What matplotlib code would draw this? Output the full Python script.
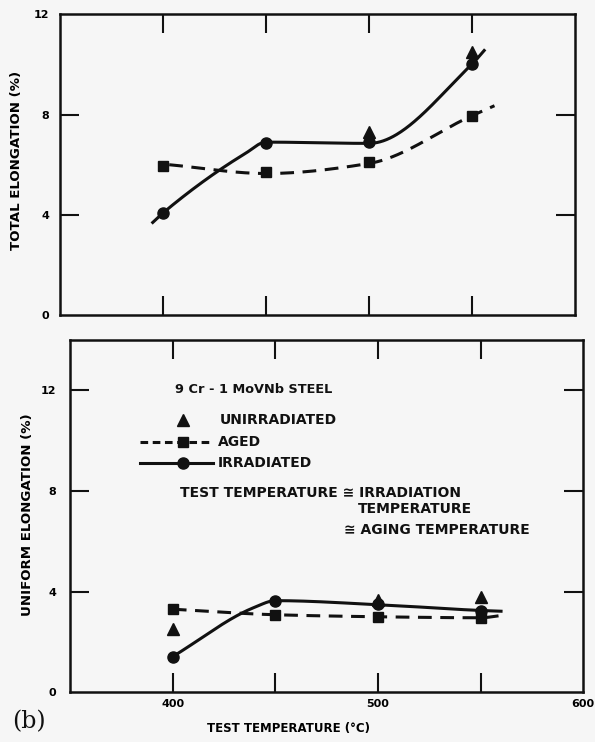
import numpy as np
import matplotlib
matplotlib.use("Agg")
import matplotlib.pyplot as plt

# ---------------- data ----------------
temps = [400, 450, 500, 550]

# top panel: total elongation (%)
tot_unirr_t = [500, 550]
tot_unirr = [7.3, 10.5]
tot_aged = [5.96, 5.7, 6.1, 7.95]
tot_irr = [4.08, 6.85, 6.9, 10.0]
# hand-drawn trend lines (path)
tot_irr_line_x = [395, 400, 440, 450, 500, 550, 556]
tot_irr_line_y = [3.7, 4.08, 6.45, 6.9, 6.85, 10.0, 10.55]
tot_aged_line_x = [403, 450, 500, 550, 561]
tot_aged_line_y = [6.0, 5.65, 6.05, 7.95, 8.35]

# bottom panel: uniform elongation (%)
uni_unirr_t = [400, 500, 550]
uni_unirr = [2.5, 3.65, 3.8]
uni_aged = [3.3, 3.08, 2.98, 2.94]
uni_irr = [1.42, 3.64, 3.5, 3.22]
uni_irr_line_x = [400, 440, 450, 500, 550, 560]
uni_irr_line_y = [1.42, 3.38, 3.64, 3.48, 3.25, 3.22]
uni_aged_line_x = [400, 450, 500, 550, 560]
uni_aged_line_y = [3.3, 3.08, 3.0, 2.96, 3.05]


def pchip(x, y, n=300):
    x = np.asarray(x, float); y = np.asarray(y, float)
    h = np.diff(x); d = np.diff(y) / h
    m = np.zeros_like(y)
    for k in range(1, len(x) - 1):
        if d[k - 1] * d[k] <= 0:
            m[k] = 0
        else:
            w1 = 2 * h[k] + h[k - 1]; w2 = h[k] + 2 * h[k - 1]
            m[k] = (w1 + w2) / (w1 / d[k - 1] + w2 / d[k])
    m[0] = d[0]; m[-1] = d[-1]
    xs = np.linspace(x[0], x[-1], n)
    idx = np.clip(np.searchsorted(x, xs) - 1, 0, len(x) - 2)
    t = (xs - x[idx]) / h[idx]
    h00 = 2 * t**3 - 3 * t**2 + 1; h10 = t**3 - 2 * t**2 + t
    h01 = -2 * t**3 + 3 * t**2; h11 = t**3 - t**2
    ys = h00 * y[idx] + h10 * h[idx] * m[idx] + h01 * y[idx + 1] + h11 * h[idx] * m[idx + 1]
    return xs, ys


bg = "#f6f6f6"
ink = "#111111"
plt.rcParams["font.family"] = ["DejaVu Sans"]
plt.rcParams["font.weight"] = "bold"
plt.rcParams["axes.labelweight"] = "bold"

fig = plt.figure(figsize=(5.95, 7.42), dpi=100, facecolor=bg)
ax1 = fig.add_axes([0.101, 0.575, 0.865, 0.406])
ax2 = fig.add_axes([0.118, 0.067, 0.862, 0.475])

lw = 2.2
dash = (0, (4.5, 2.8))
ms_c, ms_s, ms_t = 8, 6.8, 8

for ax in (ax1, ax2):
    ax.set_facecolor(bg)
    ax.set_xlim(350, 600)
    for s in ax.spines.values():
        s.set_linewidth(1.8)
        s.set_color(ink)
    ax.tick_params(direction="in", length=14, width=1.5, color=ink,
                   top=True, right=True, labelsize=8)
    ax.tick_params(axis="x", pad=5)


def hide_tick(axis, i):
    t = axis.get_major_ticks()[i]
    t.tick1line.set_visible(False)
    t.tick2line.set_visible(False)


# ---- top panel ----
ax1.set_ylim(0, 12)
ax1.set_xticks(temps)
ax1.set_xticklabels([])
ax1.set_yticks([0, 4, 8, 12])
ax1.set_yticklabels(["0", "4", "8", "12"])
ax1.tick_params(axis="y", pad=8)
hide_tick(ax1.yaxis, 0)
hide_tick(ax1.yaxis, -1)
ax1.set_ylabel("TOTAL ELONGATION (%)", fontsize=9.6, fontweight="bold")
ax1.yaxis.set_label_coords(-0.072, 0.515)

x, y = pchip(tot_irr_line_x, tot_irr_line_y)
ax1.plot(x, y, color=ink, lw=lw)
x, y = pchip(tot_aged_line_x, tot_aged_line_y)
ax1.plot(x, y, color=ink, lw=lw, linestyle=dash)
ax1.plot(tot_unirr_t, tot_unirr, "^", color=ink, ms=ms_t, ls="none")
ax1.plot(temps, tot_aged, "s", color=ink, ms=ms_s, ls="none")
ax1.plot(temps, tot_irr, "o", color=ink, ms=ms_c, ls="none")

# ---- bottom panel ----
ax2.set_ylim(0, 14)
ax2.set_xticks(temps + [600])
ax2.set_xticklabels(["400", "", "500", "", "600"])
hide_tick(ax2.xaxis, -1)
ax2.set_yticks([0, 4, 8, 12])
ax2.set_yticklabels(["0", "4", "8", "12"])
ax2.tick_params(axis="y", pad=10)
hide_tick(ax2.yaxis, 0)
ax2.set_ylabel("UNIFORM ELONGATION (%)", fontsize=9.6, fontweight="bold")
ax2.yaxis.set_label_coords(-0.070, 0.503)
ax2.set_xlabel("TEST TEMPERATURE (°C)", fontsize=8.5, fontweight="bold")
ax2.xaxis.set_label_coords(0.425, -0.085)

x, y = pchip(uni_irr_line_x, uni_irr_line_y)
ax2.plot(x, y, color=ink, lw=lw)
x, y = pchip(uni_aged_line_x, uni_aged_line_y)
ax2.plot(x, y, color=ink, lw=lw, linestyle=dash)
ax2.plot(uni_unirr_t, uni_unirr, "^", color=ink, ms=ms_t, ls="none")
ax2.plot(temps, uni_aged, "s", color=ink, ms=ms_s, ls="none")
ax2.plot(temps, uni_irr, "o", color=ink, ms=ms_c, ls="none")

# legend (drawn in axes fraction)
tr = ax2.transAxes
tk = dict(transform=tr, fontsize=10, color=ink, va="center", ha="left")
ax2.text(0.205, 0.858, "9 Cr - 1 MoVNb STEEL", **{**tk, "fontsize": 9.3})
ax2.plot([0.220], [0.773], "^", color=ink, ms=ms_t, transform=tr)
ax2.text(0.292, 0.773, "UNIRRADIATED", **tk)
ax2.plot([0.136, 0.279], [0.710, 0.710], color=ink, lw=lw, linestyle=(0, (2.5, 1.5)), transform=tr)
ax2.plot([0.220], [0.710], "s", color=ink, ms=ms_s, transform=tr)
ax2.text(0.288, 0.710, "AGED", **tk)
ax2.plot([0.136, 0.279], [0.651, 0.651], color=ink, lw=lw, transform=tr)
ax2.plot([0.220], [0.651], "o", color=ink, ms=ms_c, transform=tr)
ax2.text(0.288, 0.651, "IRRADIATED", **tk)
ax2.text(0.214, 0.565, "TEST TEMPERATURE ≅ IRRADIATION", **tk)
ax2.text(0.561, 0.520, "TEMPERATURE", **tk)
ax2.text(0.534, 0.460, "≅ AGING TEMPERATURE", **tk)

fig.text(0.02, 0.027, "(b)", fontsize=17, family="DejaVu Serif", fontweight="normal",
         color=ink, va="center")

fig.savefig("out.png", dpi=100, facecolor=bg)
